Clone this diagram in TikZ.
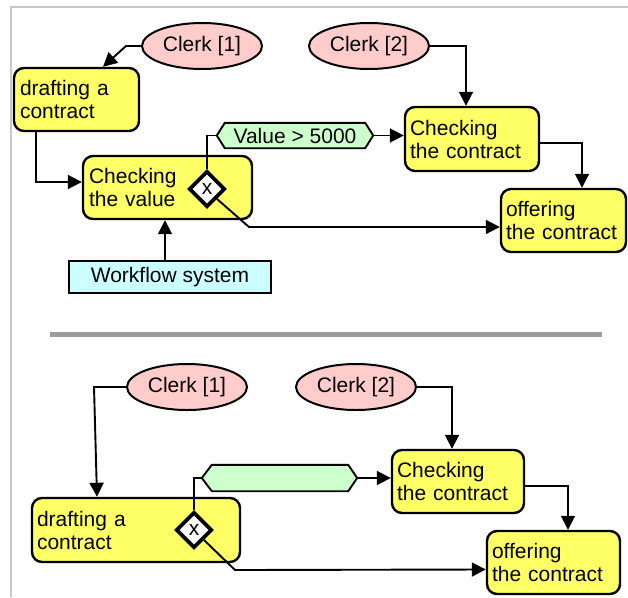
\documentclass[tikz,border=0pt]{standalone}
\usepackage{fontspec}
\setmainfont{Liberation Sans}
\usetikzlibrary{arrows.meta,shapes.geometric,backgrounds}
\definecolor{procyellow}{HTML}{FFFF66}
\definecolor{rolepink}{HTML}{FFCCCC}
\definecolor{syscyan}{HTML}{CCFFFF}
\definecolor{datagreen}{HTML}{CCFFCC}
\definecolor{framegray}{HTML}{C8C8C8}
\definecolor{sepgray}{HTML}{9C9C9C}
\begin{document}
\begin{tikzpicture}[x=1pt,y=-1pt,
  txt/.style={font=\fontsize{21pt}{23pt}\selectfont},
  proc/.style={txt, draw, line width=2.4pt, fill=procyellow, rounded corners=10pt,
    align=left, inner xsep=6pt, inner ysep=0pt},
  role/.style={txt, ellipse, draw, line width=2pt, fill=rolepink, inner sep=0pt,
    minimum width=120pt, minimum height=46pt},
  sysbox/.style={txt, draw, line width=2pt, fill=syscyan, inner sep=0pt,
    minimum width=202pt, minimum height=32pt},
  gate/.style={txt, diamond, draw, line width=3.6pt, fill=white, inner sep=0pt,
    minimum width=36pt, minimum height=36pt},
  hexnode/.style={txt, inner sep=0pt},
  hexline/.style={draw, line width=1.9pt, fill=datagreen},
  conn/.style={line width=1.9pt, draw=black},
  arr/.style={conn, -{Triangle[length=14pt,width=14pt]}}
]
\useasboundingbox (0,0) rectangle (628,597);

% frame and separator
\draw[framegray, line width=2.6pt] (11,597) -- (11,7) -- (628,7);
\draw[sepgray, line width=5pt] (50,334) -- (602,334);

% ---------- upper diagram ----------
\node[role] (c1) at (202,46) {Clerk [1]};
\node[role] (c2) at (369,46) {Clerk [2]};
\node[proc, minimum width=125pt, minimum height=63pt, text width=113pt] (draft1) at (76.5,99.5) {drafting a\\contract};
\node[proc, minimum width=169pt, minimum height=63pt, text width=157pt] (val) at (167.5,187.5) {Checking\\the value};
\node[proc, minimum width=134pt, minimum height=64pt, text width=124pt, inner xsep=5pt] (chk1) at (472,139) {Checking\\the contract};
\node[proc, minimum width=125pt, minimum height=63pt, text width=115pt, inner xsep=5pt] (off1) at (563.5,220.5) {offering\\the contract};
\node[sysbox] (wf) at (170,277) {Workflow system};
\node[hexnode, minimum width=156pt, minimum height=25pt] (hex1) at (295,135.5) {Value > 5000};
\begin{pgfonlayer}{background}
\path[hexline] (hex1.west) -- ([xshift=8pt]hex1.north west) -- ([xshift=-8pt]hex1.north east)
  -- (hex1.east) -- ([xshift=-8pt]hex1.south east) -- ([xshift=8pt]hex1.south west) -- cycle;
\end{pgfonlayer}

\draw[arr] (c1.west) -- (126,46) -- ([xshift=26.5pt]draft1.north);
\draw[arr] ([xshift=-40.5pt]draft1.south) |- ([yshift=5.5pt]val.west);
\draw[arr] ([xshift=-5pt]wf.north) -- ([xshift=-2.5pt]val.south);
\draw[arr] (c2.east) -| ([xshift=-6pt]chk1.north);
\draw[arr] (hex1.east) -- (hex1.east -| chk1.west);
\draw[arr] ([yshift=-4pt]chk1.east) -| ([xshift=18.5pt]off1.north);
\node[gate] (gw1) at (207,189) {x};
\draw[conn] (gw1.north) |- (hex1.west);
\draw[arr] (gw1.south east) -- (249,227) -- ([yshift=-6.5pt]off1.west);

% ---------- lower diagram ----------
\node[role] (c1b) at (187,387) {Clerk [1]};
\node[role] (c2b) at (356,387) {Clerk [2]};
\node[proc, minimum width=208pt, minimum height=64pt, text width=198pt, inner xsep=5pt] (draft2) at (136,530) {drafting a\\contract};
\node[proc, minimum width=132pt, minimum height=63pt, text width=122pt, inner xsep=5pt] (chk2) at (458,481.5) {Checking\\the contract};
\node[proc, minimum width=133pt, minimum height=63pt, text width=123pt, inner xsep=5pt] (off2) at (553.5,562.5) {offering\\the contract};
\node[hexnode, minimum width=155pt, minimum height=26pt] (hex2) at (279.5,478) {};
\begin{pgfonlayer}{background}
\path[hexline] (hex2.west) -- ([xshift=10pt]hex2.north west) -- ([xshift=-9pt]hex2.north east)
  -- (hex2.east) -- ([xshift=-9pt]hex2.south east) -- ([xshift=10pt]hex2.south west) -- cycle;
\end{pgfonlayer}

\draw[arr] (c1b.west) -- (94,387) -- ([xshift=-39pt]draft2.north);
\draw[arr] (c2b.east) -| ([xshift=-6pt]chk2.north);
\draw[arr] (hex2.east) -- (hex2.east -| chk2.west);
\draw[arr] ([yshift=-4.5pt]chk2.east) -| ([xshift=14.5pt]off2.north);
\node[gate] (gw2) at (194,530) {x};
\draw[conn] (gw2.north) |- (hex2.west);
\draw[arr] (gw2.south east) -- (235,570) -- ([yshift=-7pt]off2.west);
\end{tikzpicture}
\end{document}
